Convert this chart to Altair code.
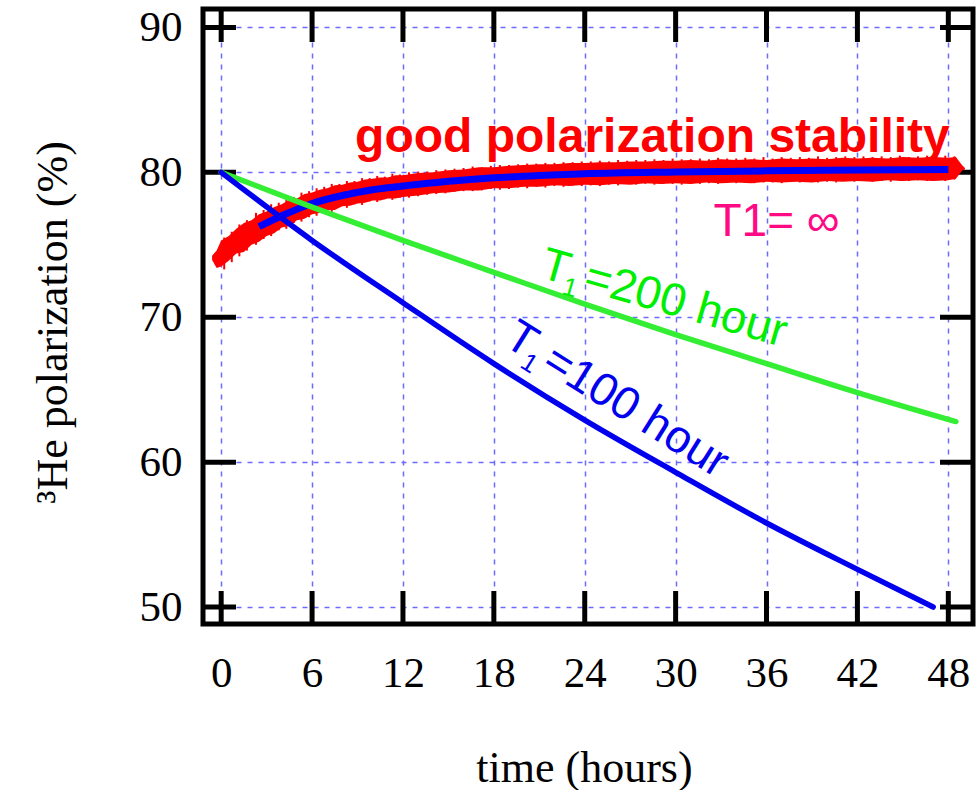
import altair as alt
import pandas as pd

# axis tick values
hour_ticks = [0, 6, 12, 18, 24, 30, 36, 42, 48]
pol_ticks = [50, 60, 70, 80, 90]

# measured 3He polarization: noisy band (lower / upper edge)
red_t = [-0.6, -0.3, 0.0, 0.5, 1.0, 1.5, 2.0, 2.5, 3.0, 3.5, 4.0, 4.5, 5.0, 5.5,
         6.0, 6.5, 7.0, 7.5, 8.0, 8.5, 9.0, 9.5, 10.0, 10.5, 11.0, 11.5, 12.0,
         13, 14, 15, 16, 17, 18, 19, 20, 21, 22, 23, 24, 25, 26, 27, 28, 29, 30,
         31, 32, 33, 34, 35, 36, 37, 38, 39, 40, 41, 42, 43, 44, 45, 46, 47, 48,
         48.5, 48.9, 49.1]
red_lo = [73.95, 73.4, 73.5, 73.9, 74.4, 74.5, 75.0, 75.2, 75.6, 75.8, 76.2, 76.3,
          76.7, 76.8, 77.1, 77.2, 77.4, 77.4, 77.65, 77.7, 77.85, 77.9, 78.05, 78.05,
          78.2, 78.2, 78.3, 78.4, 78.55, 78.6, 78.75, 78.75, 78.9, 78.9, 79.0, 79.0,
          79.1, 79.05, 79.15, 79.1, 79.2, 79.15, 79.25, 79.2, 79.25, 79.2, 79.3,
          79.25, 79.3, 79.25, 79.35, 79.3, 79.35, 79.3, 79.4, 79.35, 79.4, 79.35,
          79.45, 79.4, 79.45, 79.4, 79.45, 79.55, 80.1, 80.22]
red_hi = [74.25, 74.6, 75.3, 75.6, 76.1, 76.5, 76.7, 77.1, 77.3, 77.6, 77.8, 78.1,
          78.2, 78.5, 78.6, 78.8, 78.9, 79.1, 79.15, 79.3, 79.35, 79.5, 79.55, 79.65,
          79.65, 79.8, 79.8, 79.95, 80.0, 80.15, 80.2, 80.35, 80.35, 80.45, 80.5,
          80.55, 80.55, 80.65, 80.65, 80.7, 80.7, 80.75, 80.75, 80.8, 80.8, 80.85,
          80.8, 80.9, 80.85, 80.9, 80.85, 80.95, 80.9, 80.95, 80.9, 81.0, 80.95,
          81.0, 80.95, 81.05, 81.0, 81.05, 81.0, 81.05, 80.5, 80.3]

# individual noisy readings sticking out of the band
spike_t = [0.2, 0.7, 1.2, 1.7, 2.3, 2.8, 3.3, 3.8, 4.3, 4.8, 5.3, 5.8, 6.3, 6.8,
           7.3, 7.8, 8.3, 8.8, 9.3, 9.8, 10.3, 10.8, 11.3, 11.8, 12.4, 13.0, 13.6,
           14.2, 14.8, 15.4, 16.0, 16.6, 17.2, 17.8, 18.4, 19.0, 19.6, 20.2, 20.8,
           21.4, 22.0, 22.6, 23.2, 23.8, 24.4, 25.0, 25.6, 26.2, 26.8, 27.4, 28.0,
           28.6, 29.2, 29.8, 30.4, 31.0, 31.6, 32.2, 32.8, 33.4, 34.0, 34.6, 35.2,
           35.8, 36.4, 37.0, 37.6, 38.2, 38.8, 39.4, 40.0, 40.6, 41.2, 41.8, 42.4,
           43.0, 43.6, 44.2, 44.8, 45.4, 46.0, 46.6, 47.2, 47.8, 48.4]
spike_lo = [73.3, 73.8, 74.2, 74.6, 75.0, 75.4, 75.6, 76.0, 76.1, 76.5, 76.6, 76.9,
            77.0, 77.3, 77.25, 77.6, 77.55, 77.8, 77.75, 78.0, 77.95, 78.15, 78.1,
            78.25, 78.25, 78.35, 78.45, 78.5, 78.55, 78.65, 78.7, 78.7, 78.75, 78.85,
            78.8, 78.85, 78.95, 78.9, 79.0, 78.95, 79.05, 79.0, 79.1, 79.05, 79.1,
            79.05, 79.15, 79.1, 79.2, 79.15, 79.2, 79.15, 79.2, 79.2, 79.15, 79.25,
            79.2, 79.25, 79.2, 79.3, 79.25, 79.3, 79.25, 79.3, 79.3, 79.25, 79.35,
            79.3, 79.35, 79.3, 79.35, 79.3, 79.4, 79.35, 79.4, 79.35, 79.4, 79.35,
            79.4, 79.4, 79.45, 79.4, 79.45, 79.4, 79.5]
spike_hi = [75.5, 75.9, 76.4, 76.7, 77.2, 77.4, 77.8, 77.9, 78.3, 78.3, 78.6, 78.7,
            78.9, 79.0, 79.2, 79.2, 79.4, 79.4, 79.6, 79.6, 79.75, 79.7, 79.9, 79.85,
            80.0, 80.05, 80.05, 80.15, 80.2, 80.25, 80.3, 80.4, 80.35, 80.45, 80.5,
            80.5, 80.55, 80.6, 80.6, 80.65, 80.65, 80.7, 80.7, 80.75, 80.75, 80.8,
            80.75, 80.85, 80.8, 80.85, 80.85, 80.9, 80.85, 80.95, 80.9, 80.9, 80.95,
            80.9, 81.0, 80.95, 80.95, 81.0, 80.95, 81.05, 80.95, 81.05, 81.0, 81.05,
            81.0, 81.1, 81.0, 81.05, 81.1, 81.05, 81.1, 81.05, 81.1, 81.05, 81.15,
            81.05, 81.1, 81.15, 81.1, 81.15, 81.1]

# fitted curve through the measurement
fit_t = [2.5, 4, 6, 8, 10, 12, 15, 18, 21, 24, 30, 36, 42, 48]
fit_p = [76.25, 77.0, 77.85, 78.4, 78.8, 79.05, 79.38, 79.62, 79.78, 79.9, 80.02,
         80.1, 80.16, 80.2]

# decay curves for T1 = 200 h and T1 = 100 h
t200_t = [0, 6, 12, 18, 24, 30, 36, 42, 48.5]
t200_p = [80.0, 77.6, 75.3, 73.1, 70.9, 68.8, 66.8, 64.8, 62.8]
t100_t = [0, 6, 12, 18, 24, 30, 36, 42, 47]
t100_p = [80.0, 75.3, 71.0, 66.8, 62.9, 59.3, 55.8, 52.6, 50.0]

W, H = 770, 615
SERIF = "Liberation Serif"
SANS = "Liberation Sans"

xscale = alt.Scale(domain=[-1.2, 49.63], nice=False, zero=False)
yscale = alt.Scale(domain=[48.83, 91.27], nice=False, zero=False)

xaxis = alt.Axis(values=hour_ticks, title="time (hours)", grid=True, ticks=False,
                 tickSize=0, domain=False, labelFont=SERIF, labelFontSize=43,
                 labelColor="black", labelBaseline="alphabetic", labelPadding=62,
                 titleFont=SERIF, titleFontSize=44, titleFontWeight="normal",
                 titleColor="black", titleBaseline="middle", titleY=144,
                 titleX=W / 2 - 4,
                 gridColor="#6b6bff", gridDash=[5, 6], gridWidth=1.5, gridOpacity=1)
yaxis = alt.Axis(values=pol_ticks, title="³He polarization (%)", grid=True,
                 ticks=False, tickSize=0, domain=False, labelFont=SERIF,
                 labelFontSize=43, labelColor="black", labelBaseline="middle",
                 labelPadding=21, titleFont=SERIF, titleFontSize=44,
                 titleFontWeight="normal", titleColor="black", titleAngle=-90,
                 titleBaseline="alphabetic", titleAlign="center", titleX=-137,
                 titleY=313,
                 gridColor="#6b6bff", gridDash=[5, 6], gridWidth=1.5, gridOpacity=1)


def X(field):
    return alt.X(field, type="quantitative", scale=xscale, axis=xaxis)


def Y(field):
    return alt.Y(field, type="quantitative", scale=yscale, axis=yaxis)


xt = pd.DataFrame({"t": hour_ticks})
yt = pd.DataFrame({"p": pol_ticks})

# inward-pointing ticks on all four sides of the frame
tick_style = dict(color="black", strokeWidth=5, strokeCap="butt")
ticks = [
    alt.Chart(xt).mark_rule(**tick_style).encode(x=X("t"), y=alt.value(H), y2=alt.value(H - 33)),
    alt.Chart(xt).mark_rule(**tick_style).encode(x=X("t"), y=alt.value(0), y2=alt.value(33)),
    alt.Chart(yt).mark_rule(**tick_style).encode(y=Y("p"), x=alt.value(0), x2=alt.value(33)),
    alt.Chart(yt).mark_rule(**tick_style).encode(y=Y("p"), x=alt.value(W), x2=alt.value(W - 33)),
]

band = alt.Chart(pd.DataFrame({"t": red_t, "lo": red_lo, "hi": red_hi})).mark_area(
    color="#ff0000"
).encode(x=X("t"), y=Y("lo"), y2="hi")

spikes = alt.Chart(pd.DataFrame({"t": spike_t, "lo": spike_lo, "hi": spike_hi})).mark_rule(
    color="#ff0000", strokeWidth=2
).encode(x=X("t"), y=Y("lo"), y2="hi")

fit = alt.Chart(pd.DataFrame({"t": fit_t, "p": fit_p})).mark_line(
    color="#0000ff", strokeWidth=7, interpolate="monotone"
).encode(x=X("t"), y=Y("p"))

g200 = alt.Chart(pd.DataFrame({"t": t200_t, "p": t200_p})).mark_line(
    color="#33ee33", strokeWidth=5.5, interpolate="monotone", strokeCap="round"
).encode(x=X("t"), y=Y("p"))

b100 = alt.Chart(pd.DataFrame({"t": t100_t, "p": t100_p})).mark_line(
    color="#0000ee", strokeWidth=5.5, interpolate="monotone", strokeCap="round"
).encode(x=X("t"), y=Y("p"))


def label(t, p, text, align="left", **kw):
    return alt.Chart(pd.DataFrame({"t": [t], "p": [p], "s": [text]})).mark_text(
        align=align, baseline="alphabetic", **kw
    ).encode(x=X("t"), y=Y("p"), text="s:N")


texts = [
    label(28.47, 81.4, "good polarization stability", align="center", font=SANS,
          fontSize=48, fontWeight="bold", color="#ff0000"),
    label(32.5, 75.6, "T1= ∞", font=SANS, fontSize=46, color="#ff0a84"),
    # T1 = 200 hour, written along the green curve
    label(20.94, 72.77, "T", font=SANS, fontSize=46, color="#00ee00", angle=16),
    label(20.94, 72.77, "1", font=SANS, fontSize=26, color="#00ee00", angle=16, dx=26, dy=10),
    label(20.94, 72.77, "=200 hour", font=SANS, fontSize=46, color="#00ee00", angle=16, dx=45),
    # T1 = 100 hour, written along the blue curve
    label(18.53, 68.13, "T", font=SANS, fontSize=46, color="#0000ee", angle=32),
    label(18.53, 68.13, "1", font=SANS, fontSize=26, color="#0000ee", angle=32, dx=26, dy=10),
    label(18.53, 68.13, "=100 hour", font=SANS, fontSize=46, color="#0000ee", angle=32, dx=45),
]

chart = alt.layer(*ticks, band, spikes, fit, g200, b100, *texts).properties(
    width=W, height=H,
    autosize=alt.AutoSizeParams(type="none"),
    padding={"left": 203, "top": 9, "right": 5, "bottom": 166},
).configure(background="white").configure_view(stroke="black", strokeWidth=5)

chart.save("out.html", embed_options={"renderer": "svg", "actions": False})
